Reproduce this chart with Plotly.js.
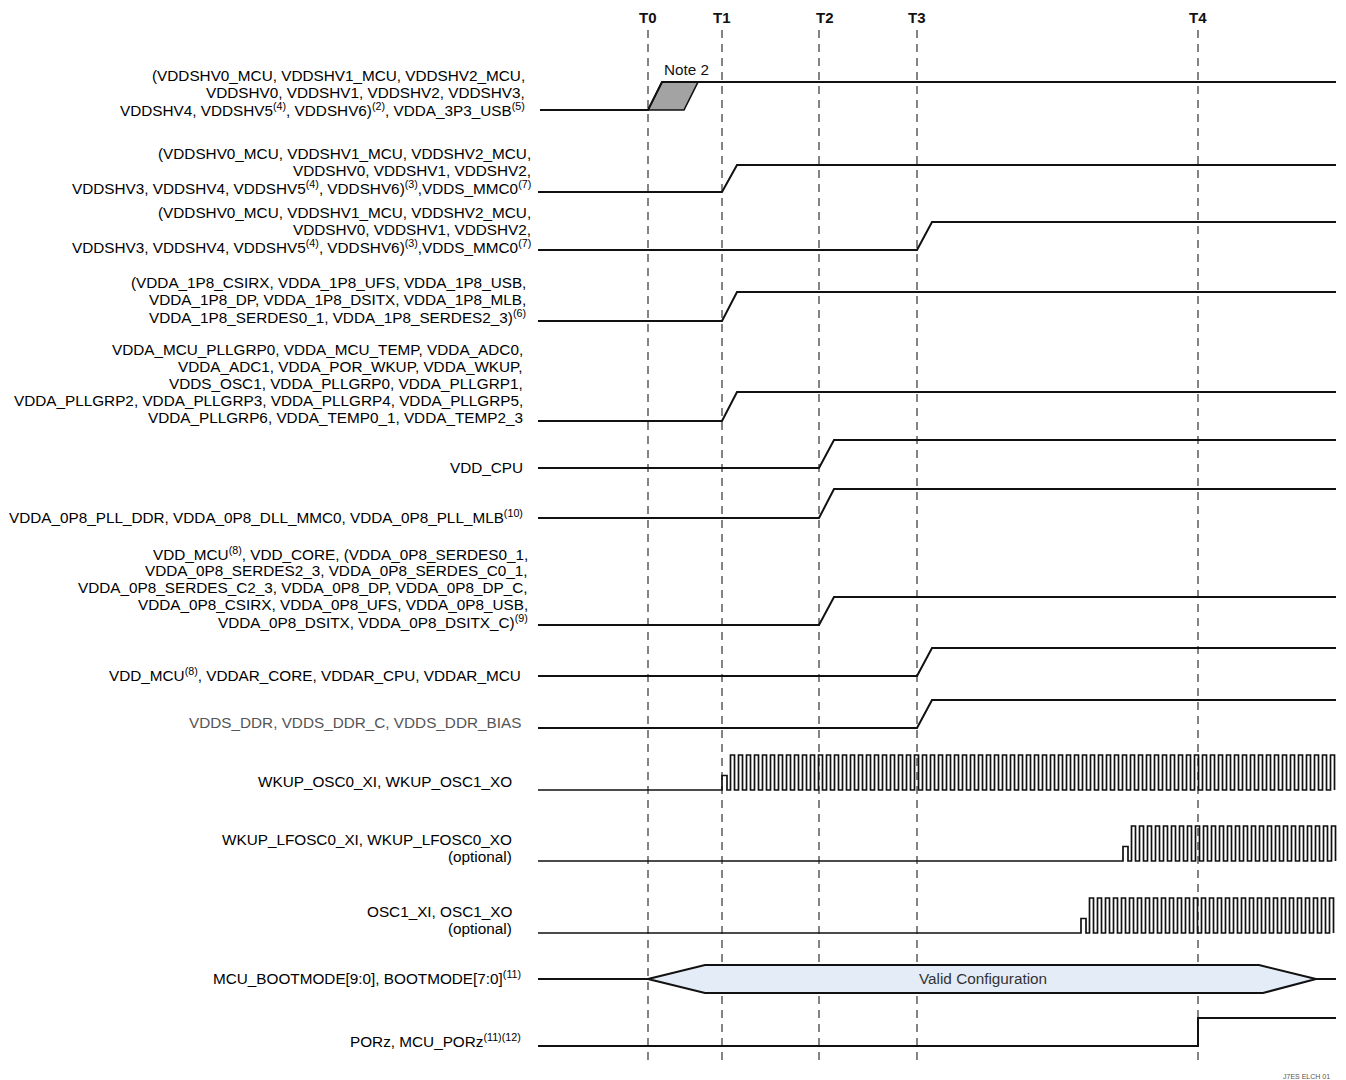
<!DOCTYPE html>
<html>
<head>
<meta charset="utf-8">
<script src="https://cdn.plot.ly/plotly-3.0.1.min.js"></script>
<style>html,body{margin:0;padding:0;background:#fff;}#chart{width:1346px;height:1080px;}</style>
</head>
<body>
<div id="chart"></div>
<script>
// ---------- DATA ----------
// Timing markers (time axis units)
const markerNames = ['T0', 'T1', 'T2', 'T3', 'T4'];
const markerTimes = [648, 722, 819, 917, 1198];

// Signal groups (labels, one entry per text line)
const signalLabels = [
  ['(VDDSHV0_MCU, VDDSHV1_MCU, VDDSHV2_MCU,', 'VDDSHV0, VDDSHV1, VDDSHV2, VDDSHV3,', 'VDDSHV4, VDDSHV5<sup>(4)</sup>, VDDSHV6)<sup>(2)</sup>, VDDA_3P3_USB<sup>(5)</sup>'],
  ['(VDDSHV0_MCU, VDDSHV1_MCU, VDDSHV2_MCU,', 'VDDSHV0, VDDSHV1, VDDSHV2,', 'VDDSHV3, VDDSHV4, VDDSHV5<sup>(4)</sup>, VDDSHV6)<sup>(3)</sup>,VDDS_MMC0<sup>(7)</sup>'],
  ['(VDDSHV0_MCU, VDDSHV1_MCU, VDDSHV2_MCU,', 'VDDSHV0, VDDSHV1, VDDSHV2,', 'VDDSHV3, VDDSHV4, VDDSHV5<sup>(4)</sup>, VDDSHV6)<sup>(3)</sup>,VDDS_MMC0<sup>(7)</sup>'],
  ['(VDDA_1P8_CSIRX, VDDA_1P8_UFS, VDDA_1P8_USB,', 'VDDA_1P8_DP, VDDA_1P8_DSITX, VDDA_1P8_MLB,', 'VDDA_1P8_SERDES0_1, VDDA_1P8_SERDES2_3)<sup>(6)</sup>'],
  ['VDDA_MCU_PLLGRP0, VDDA_MCU_TEMP, VDDA_ADC0,', 'VDDA_ADC1, VDDA_POR_WKUP, VDDA_WKUP,', 'VDDS_OSC1, VDDA_PLLGRP0, VDDA_PLLGRP1,', 'VDDA_PLLGRP2, VDDA_PLLGRP3, VDDA_PLLGRP4, VDDA_PLLGRP5,', 'VDDA_PLLGRP6, VDDA_TEMP0_1, VDDA_TEMP2_3'],
  ['VDD_CPU'],
  ['VDDA_0P8_PLL_DDR, VDDA_0P8_DLL_MMC0, VDDA_0P8_PLL_MLB<sup>(10)</sup>'],
  ['VDD_MCU<sup>(8)</sup>, VDD_CORE, (VDDA_0P8_SERDES0_1,', 'VDDA_0P8_SERDES2_3, VDDA_0P8_SERDES_C0_1,', 'VDDA_0P8_SERDES_C2_3, VDDA_0P8_DP, VDDA_0P8_DP_C,', 'VDDA_0P8_CSIRX, VDDA_0P8_UFS, VDDA_0P8_USB,', 'VDDA_0P8_DSITX, VDDA_0P8_DSITX_C)<sup>(9)</sup>'],
  ['VDD_MCU<sup>(8)</sup>, VDDAR_CORE, VDDAR_CPU, VDDAR_MCU'],
  ['VDDS_DDR, VDDS_DDR_C, VDDS_DDR_BIAS'],
  ['WKUP_OSC0_XI, WKUP_OSC1_XO'],
  ['WKUP_LFOSC0_XI, WKUP_LFOSC0_XO', '(optional)'],
  ['OSC1_XI, OSC1_XO', '(optional)'],
  ['MCU_BOOTMODE[9:0], BOOTMODE[7:0]<sup>(11)</sup>'],
  ['PORz, MCU_PORz<sup>(11)(12)</sup>']
];
// Waveform kind and event for each signal
const signalKinds = ['window', 'ramp', 'ramp', 'ramp', 'ramp', 'ramp', 'ramp', 'ramp', 'ramp', 'ramp', 'clock', 'clock', 'clock', 'bus', 'step'];
const signalEvents = ['T0', 'T1', 'T3', 'T1', 'T1', 'T2', 'T2', 'T2', 'T3', 'T3', 'T1', 1123, 1081, 'T0', 'T4'];
const noteText = 'Note 2';
const busText = 'Valid Configuration';
const figureId = 'J7ES ELCH 01';

// ---------- LAYOUT HELPERS (positions / styles) ----------
const rowLow  = [110, 192, 250, 321, 421, 468, 518, 625, 676, 728, 790, 861, 933, 979, 1046];
const rowHigh = [82, 165, 222, 292, 392, 440, 489, 597, 648, 700, 755, 826, 898, 965, 1018];
const labelLastY = [109, 187, 246, 316, 417, 467, 516, 621, 674, 722, 781, 856, 928, 977, 1040];
const labelRight = [527, 533, 533, 528, 525, 525, 525, 530, 523, 523, 514, 514, 514, 523, 523];
const labelColor = ['#000', '#000', '#000', '#000', '#000', '#000', '#000', '#000', '#000', '#555', '#000', '#000', '#000', '#000', '#000'];
const lineSpacing = 17;
const xStart = 538, xEnd = 1336;
const rampW = 15;
const clockPeriod = 8;
const FONT = 'Liberation Sans, Arial, sans-serif';
const FS = 15.3;
const INK = '#111';

const tOf = ev => typeof ev === 'number' ? ev : markerTimes[markerNames.indexOf(ev)];

const traces = [];
const annotations = [];

// dashed marker lines
markerTimes.forEach((t, i) => {
  traces.push({x: [t, t], y: [30, 1062], mode: 'lines', hoverinfo: 'skip',
    line: {color: '#333', width: 1.2, dash: '8px,6px'}});
  annotations.push({x: markerNames[i] === 'T2' ? t + 6 : t, y: 17, xref: 'x', yref: 'y', text: '<b>' + markerNames[i] + '</b>',
    showarrow: false, font: {family: FONT, size: 15, color: INK}, xanchor: 'center', yanchor: 'middle'});
});

signalKinds.forEach((kind, i) => {
  const lo = rowLow[i], hi = rowHigh[i], t = tOf(signalEvents[i]);
  const st = {color: INK, width: 2};
  if (kind === 'ramp') {
    traces.push({x: [xStart, t, t + rampW, xEnd], y: [lo, lo, hi, hi], mode: 'lines', line: st, hoverinfo: 'skip'});
  } else if (kind === 'window') {
    traces.push({x: [t, t + 14, t + 50, t + 36, t], y: [lo, hi, hi, lo, lo], mode: 'lines', fill: 'toself',
      fillcolor: '#a3a3a3', line: {color: INK, width: 1.6}, hoverinfo: 'skip'});
    traces.push({x: [xStart + 2, t, t + 14, xEnd], y: [lo, lo, hi, hi], mode: 'lines', line: st, hoverinfo: 'skip'});
    annotations.push({x: t + 38, y: 69, xref: 'x', yref: 'y', text: noteText, showarrow: false,
      font: {family: FONT, size: FS, color: INK}, xanchor: 'center', yanchor: 'middle'});
  } else if (kind === 'clock') {
    const mid = (lo + hi) / 2 + 3;
    const xs = [xStart, t, t, t + 5, t + 5], ys = [lo, lo, mid, mid, lo];
    let x = t + 8.5;
    while (x + clockPeriod / 2 <= xEnd) {
      xs.push(x, x, x + clockPeriod / 2, x + clockPeriod / 2);
      ys.push(lo, hi, hi, lo);
      x += clockPeriod;
    }
    traces.push({x: xs, y: ys, mode: 'lines', line: {color: INK, width: 1.7}, hoverinfo: 'skip'});
  } else if (kind === 'bus') {
    const c = lo, h = c - hi;
    traces.push({x: [xStart, t], y: [c, c], mode: 'lines', line: st, hoverinfo: 'skip'});
    traces.push({x: [t, 705, 1259, 1316, 1263, 705, t], y: [c, c - h, c - h, c, c + h, c + h, c], mode: 'lines',
      fill: 'toself', fillcolor: '#e4ecf7', line: st, hoverinfo: 'skip'});
    traces.push({x: [1316, xEnd], y: [c, c], mode: 'lines', line: st, hoverinfo: 'skip'});
    annotations.push({x: 983, y: c - 1, xref: 'x', yref: 'y', text: busText, showarrow: false,
      font: {family: FONT, size: FS, color: '#333'}, xanchor: 'center', yanchor: 'middle'});
  } else if (kind === 'step') {
    traces.push({x: [xStart, t, t, xEnd], y: [lo, lo, hi, hi], mode: 'lines', line: st, hoverinfo: 'skip'});
  }
  // labels
  const lines = signalLabels[i];
  lines.forEach((txt, k) => {
    annotations.push({x: labelRight[i], y: labelLastY[i] - (lines.length - 1 - k) * lineSpacing,
      xref: 'x', yref: 'y', text: txt, showarrow: false, xanchor: 'right', yanchor: 'middle',
      font: {family: FONT, size: FS, color: labelColor[i]}});
  });
});

annotations.push({x: 1306, y: 1076, xref: 'x', yref: 'y', text: figureId, showarrow: false,
  font: {family: FONT, size: 7, color: '#555'}, xanchor: 'center', yanchor: 'middle'});

const layout = {
  width: 1346, height: 1080, autosize: false,
  margin: {l: 0, r: 0, t: 0, b: 0, pad: 0},
  paper_bgcolor: '#fff', plot_bgcolor: '#fff',
  showlegend: false,
  xaxis: {range: [0, 1346], visible: false, fixedrange: true},
  yaxis: {range: [1080, 0], visible: false, fixedrange: true},
  annotations: annotations
};
Plotly.newPlot('chart', traces, layout, {staticPlot: true, displayModeBar: false});
</script>
</body>
</html>
